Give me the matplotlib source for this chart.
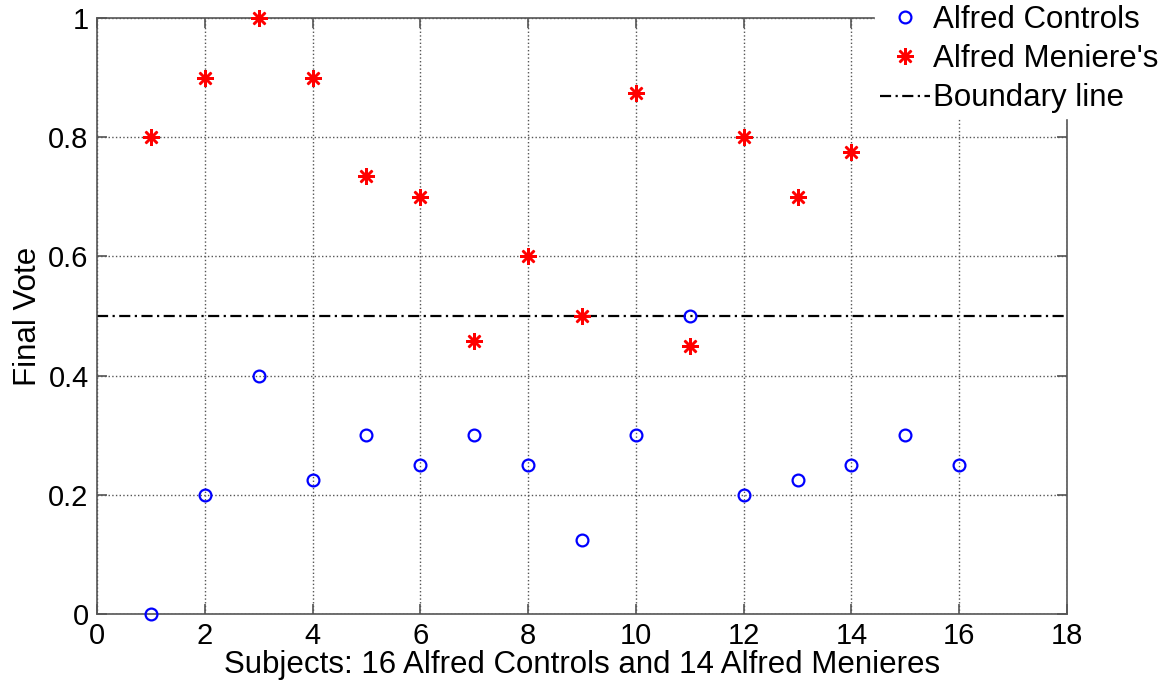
import matplotlib
matplotlib.use("Agg")
import matplotlib.pyplot as plt
import numpy as np

plt.rcParams['font.family'] = ['Liberation Sans', 'DejaVu Sans']

# data
control_subj = list(range(1, 17))
control_vote = [0.0, 0.2, 0.4, 0.225, 0.3, 0.25, 0.3, 0.25,
                0.125, 0.3, 0.5, 0.2, 0.225, 0.25, 0.3, 0.25]
meniere_subj = list(range(1, 15))
meniere_vote = [0.8, 0.9, 1.0, 0.9, 0.735, 0.7, 0.458, 0.6,
                0.5, 0.875, 0.45, 0.8, 0.7, 0.775]
boundary = 0.5
x_ticks = [0, 2, 4, 6, 8, 10, 12, 14, 16, 18]
y_ticks = [0, 0.2, 0.4, 0.6, 0.8, 1]
y_labels = ['0', '0.2', '0.4', '0.6', '0.8', '1']

fs_tick = 21
fs_lab = 22.5
fig = plt.figure(figsize=(11.68, 6.89), dpi=100)
ax = fig.add_axes([97 / 1168, 1 - 614 / 689, 970 / 1168, 596 / 689])

ax.plot(control_subj, control_vote, linestyle='none', marker='o',
        markersize=8.5, markerfacecolor='none', markeredgecolor='blue',
        markeredgewidth=1.6, label='Alfred Controls', clip_on=False, zorder=3)
ax.plot(meniere_subj, meniere_vote, linestyle='none', marker=(8, 2, 0),
        markersize=12, markeredgecolor='red', markerfacecolor='red',
        markeredgewidth=1.8, label="Alfred Meniere's", clip_on=False, zorder=3)
ax.axhline(boundary, color='black', linestyle='-.', linewidth=1.6,
           dashes=(5, 2, 1, 2), label='Boundary line', zorder=2)

ax.set_xlim(0, 18)
ax.set_ylim(0, 1)
ax.set_xticks(x_ticks)
ax.set_yticks(y_ticks)
ax.set_yticklabels(y_labels)
ax.grid(True, linestyle=':', color='#555555', linewidth=1.0)
ax.tick_params(direction='in', length=7, width=1.2, color='#555555',
               labelsize=fs_tick, top=True, right=True, pad=6)
for s in ax.spines.values():
    s.set_color('#555555')
    s.set_linewidth(1.2)

ax.set_xlabel('Subjects: 16 Alfred Controls and 14 Alfred Menieres',
              fontsize=fs_lab, labelpad=0)
ax.set_ylabel('Final Vote', fontsize=fs_lab, labelpad=4)

leg = fig.legend(loc='upper right', bbox_to_anchor=(0.996, 1.0), fontsize=fs_lab,
                 frameon=True, fancybox=False, edgecolor='white',
                 facecolor='white', framealpha=1.0, handlelength=1.6,
                 handletextpad=0.1, labelspacing=0.3, borderpad=0.15,
                 borderaxespad=0.0)
leg.set_zorder(10)

fig.savefig('out.png', dpi=100)
